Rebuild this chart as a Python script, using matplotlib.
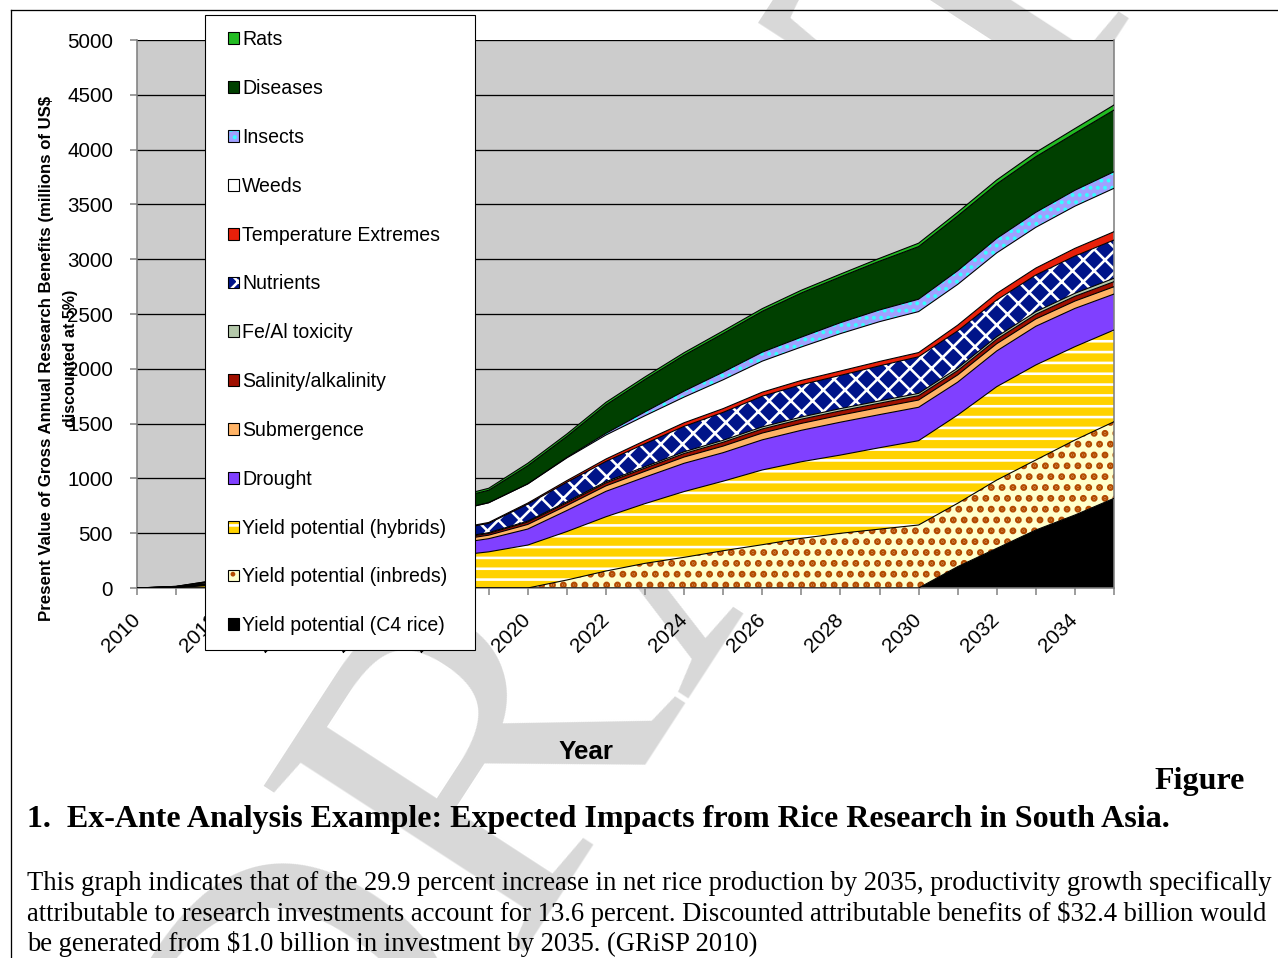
import numpy as np
import matplotlib
matplotlib.use("Agg")
import matplotlib.pyplot as plt
from matplotlib.patches import Rectangle, Patch
from matplotlib.legend_handler import HandlerBase
from matplotlib.lines import Line2D

# ---------------- data ----------------
years = list(range(2010, 2036))

c4_rice = [0, 0, 0, 0, 0, 0, 0, 0, 0, 0, 0, 0, 0, 0, 0, 0, 0, 0, 0, 0, 0, 195, 362, 529, 666, 818]
inbreds = [0, 0, 0, 0, 0, 0, 0, 0, 0, 0, 0, 73, 155, 225, 280, 340, 395, 453, 499, 537, 575, 578, 623, 639, 684, 699]
hybrids = [0, 5, 25, 64, 117, 170, 220, 258, 290, 330, 392, 442, 495, 545, 600, 635, 682, 699, 714, 743, 769, 805, 852, 867, 852, 837]
drought = [0, 2, 9, 24, 44, 63, 82, 96, 108, 120, 146, 192, 232, 242, 258, 260, 275, 287, 300, 302, 305, 300, 326, 353, 349, 328]
submergence = [0, 1, 2, 6, 12, 17, 22, 26, 29, 32, 42, 46, 50, 53, 57, 60, 62, 63, 64, 65, 66, 66, 66, 67, 67, 67]
salinity = [0, 0, 1, 3, 6, 9, 11, 13, 14, 16, 22, 24, 27, 29, 32, 35, 37, 38, 39, 39, 40, 40, 41, 42, 44, 46]
fe_al = [0, 0, 1, 1, 2, 3, 4, 5, 6, 7, 8, 10, 11, 13, 16, 18, 19, 20, 21, 21, 21, 22, 23, 24, 27, 31]
nutrients = [0, 2, 7, 17, 31, 45, 58, 68, 77, 85, 155, 178, 185, 210, 232, 255, 280, 295, 303, 320, 334, 340, 335, 335, 340, 349]
temperature = [0, 0, 1, 2, 3, 4, 5, 6, 7, 8, 10, 15, 22, 28, 33, 34, 37, 39, 40, 40, 38, 52, 60, 63, 70, 76]
weeds = [0, 3, 14, 36, 65, 95, 123, 145, 163, 180, 175, 207, 219, 227, 234, 263, 283, 305, 341, 363, 374, 372, 370, 372, 385, 396]
insects = [0, 0, 0, 0, 0, 0, 0, 0, 0, 0, 0, 5, 15, 35, 55, 70, 82, 90, 100, 107, 113, 125, 132, 137, 145, 151]
diseases = [0, 2, 9, 24, 44, 65, 83, 98, 110, 114, 166, 191, 260, 296, 327, 352, 373, 403, 418, 445, 480, 500, 497, 507, 520, 563]
rats = [0, 0, 1, 3, 6, 9, 12, 15, 16, 18, 22, 22, 23, 23, 23, 24, 24, 25, 25, 26, 31, 33, 36, 40, 43, 46]

series_labels = ["Yield potential (C4 rice)", "Yield potential (inbreds)", "Yield potential (hybrids)",
                 "Drought", "Submergence", "Salinity/alkalinity", "Fe/Al toxicity", "Nutrients",
                 "Temperature Extremes", "Weeds", "Insects", "Diseases", "Rats"]
series_values = [c4_rice, inbreds, hybrids, drought, submergence, salinity, fe_al, nutrients,
                 temperature, weeds, insects, diseases, rats]

xtick_years = list(range(2010, 2036, 2))
xtick_labels = [str(y) for y in xtick_years]
ytick_values = list(range(0, 5001, 500))
ytick_labels = [str(v) for v in ytick_values]

# ---------------- style ----------------
DPI = 130
W, H = 1278, 958


def pt(px):
    return px * 72.0 / DPI


# face colour, hatch, hatch colour, hatch line width (px)
styles = {
    "Yield potential (C4 rice)": ("#000000", None, None, None),
    "Yield potential (inbreds)": ("#FFFFCC", "..", "#B34A00", 4.6),
    "Yield potential (hybrids)": ("#FFD200", "--", "#FFFFFF", 2.6),
    "Drought": ("#8040FF", None, None, None),
    "Submergence": ("#FFB366", None, None, None),
    "Salinity/alkalinity": ("#A01000", None, None, None),
    "Fe/Al toxicity": ("#B4C8AA", None, None, None),
    "Nutrients": ("#001489", "xx", "#FFFFFF", 2.6),
    "Temperature Extremes": ("#E8200A", None, None, None),
    "Weeds": ("#FFFFFF", None, None, None),
    "Insects": ("#A0A0FF", "...", "#33FFFF", 2.4),
    "Diseases": ("#004000", None, None, None),
    "Rats": ("#22BB22", None, None, None),
}

plt.rcParams["hatch.linewidth"] = pt(2.6)
plt.rcParams["font.family"] = ["Liberation Sans", "DejaVu Sans"]

fig = plt.figure(figsize=(W / DPI, H / DPI), dpi=DPI)
fig.patch.set_facecolor("white")

# watermark
fig.text(650 / W, 1 - 530 / H, "DRAFT", rotation=57, ha="center", va="center",
         fontsize=pt(470), color="#D8D8D8", family="Liberation Serif", zorder=-5)

ax = fig.add_axes([137 / W, 1 - 588 / H, (1114 - 137) / W, 548 / H])
ax.set_facecolor("#CCCCCC")

x = np.array(years)
lower = np.zeros(len(years))
for lab, vals in zip(series_labels, series_values):
    face, hatch, hc, hlw = styles[lab]
    upper = lower + np.array(vals, dtype=float)
    ax.fill_between(x, lower, upper, facecolor=face, edgecolor="none", linewidth=0, zorder=2)
    if hatch:
        with plt.rc_context({"hatch.linewidth": pt(hlw)}):
            ax.fill_between(x, lower, upper, facecolor="none", edgecolor=hc, hatch=hatch,
                            linewidth=0, zorder=2.1)
    ax.plot(x, upper, color="black", lw=pt(1.1), zorder=3, solid_joinstyle="miter")
    lower = upper

ax.set_xlim(2010, 2035)
ax.set_ylim(0, 5000)
ax.set_axisbelow(True)
ax.yaxis.grid(True, color="black", lw=pt(1.3))
ax.xaxis.grid(False)

ax.set_xticks(xtick_years)
ax.set_xticks(list(range(2011, 2036, 2)), minor=True)
ax.set_xticklabels(xtick_labels, rotation=45, ha="right", va="center", rotation_mode="anchor")
ax.set_yticks(ytick_values)
ax.set_yticklabels(ytick_labels)
ax.tick_params(axis="both", which="both", direction="out", length=pt(7), width=pt(1.5),
               color="#808080", labelsize=pt(20.5))
ax.tick_params(axis="x", which="major", pad=pt(22))
ax.tick_params(axis="y", pad=pt(17))
for s in ["left", "bottom", "right"]:
    ax.spines[s].set_color("#808080")
    ax.spines[s].set_linewidth(pt(1.6))
ax.spines["top"].set_visible(False)


class SquareHandler(HandlerBase):
    def create_artists(self, legend, orig_handle, xdescent, ydescent, width, height, fontsize, trans):
        face, hatch, hc, hlw = styles[orig_handle.get_label()]
        side = height
        x0 = -xdescent + width - side
        y0 = -ydescent + (height - side) / 2.0
        r1 = Rectangle((x0, y0), side, side, facecolor=face,
                       edgecolor=(hc if hatch else "none"), hatch=hatch, linewidth=0, transform=trans)
        r2 = Rectangle((x0, y0), side, side, facecolor="none", edgecolor="black",
                       linewidth=pt(1.1), transform=trans)
        return [r1, r2]


handles = [Patch(label=lab) for lab in series_labels[::-1]]
leg = ax.legend(handles=handles, labels=series_labels[::-1], loc="upper left",
                bbox_to_anchor=(205 / W, 1 - 648 / H, 270 / W, 633 / H), mode="expand",
                bbox_transform=fig.transFigure,
                borderaxespad=0, prop={"size": pt(19.5), "family": ["Liberation Sans"]},
                handler_map={Patch: SquareHandler()}, handlelength=0.98, handleheight=0.55,
                handletextpad=0.15, labelspacing=1.53, borderpad=0.78, frameon=True,
                fancybox=False, framealpha=1)
leg.get_frame().set_edgecolor("black")
leg.get_frame().set_linewidth(pt(1.1))
leg.set_zorder(10)

# axis titles
fig.text(47 / W, 1 - 358 / H, "Present Value of Gross Annual Research Benefits (millions of US\\$",
         rotation=90, ha="center", va="center", fontsize=pt(16.8), fontweight="bold")
fig.text(70 / W, 1 - 358 / H, "discounted at 5%)", rotation=90, ha="center", va="center",
         fontsize=pt(16), fontweight="bold")
fig.text(586 / W, 1 - 752 / H, "Year", ha="center", va="center", fontsize=pt(26), fontweight="bold")

# caption
serif = ["Liberation Serif", "DejaVu Serif"]
fig.text(1245 / W, 1 - 782 / H, "Figure", ha="right", va="center", family=serif,
         fontweight="bold", fontsize=pt(32))
fig.text(27 / W, 1 - 820 / H,
         "1.  Ex-Ante Analysis Example: Expected Impacts from Rice Research in South Asia.",
         ha="left", va="center", family=serif, fontweight="bold", fontsize=pt(32))
para = ["This graph indicates that of the 29.9 percent increase in net rice production by 2035, productivity growth specifically",
        "attributable to research investments account for 13.6 percent. Discounted attributable benefits of \\$32.4 billion would",
        "be generated from \\$1.0 billion in investment by 2035. (GRiSP 2010)"]
for i, line in enumerate(para):
    fig.text(27 / W, 1 - (884 + 30 * i) / H, line, ha="left", va="center", family=serif,
             fontsize=pt(26.6))

# outer border
fig.add_artist(Line2D([11 / W, 11 / W], [0, 1 - 10 / H], transform=fig.transFigure,
                      color="black", lw=pt(1.3)))
fig.add_artist(Line2D([11 / W, 1], [1 - 10 / H, 1 - 10 / H], transform=fig.transFigure,
                      color="black", lw=pt(1.3)))

fig.savefig("out.png", dpi=DPI, facecolor="white")
